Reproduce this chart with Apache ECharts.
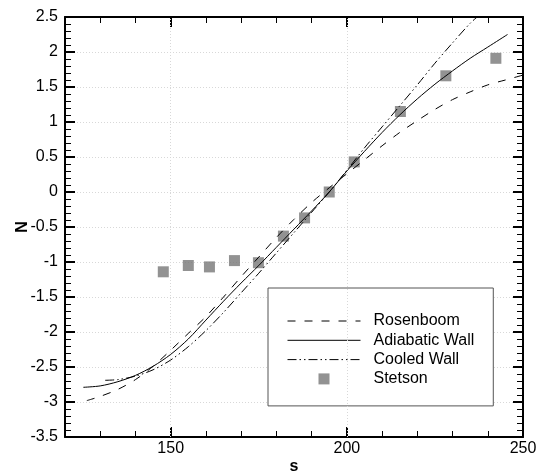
<!DOCTYPE html>
<html>
<head>
<meta charset="utf-8">
<script src="https://cdn.jsdelivr.net/npm/echarts@6/dist/echarts.min.js"></script>
<style>
  html, body { margin: 0; padding: 0; background: #fff; }
  #chart { width: 536px; height: 473px; }
</style>
</head>
<body>
<div id="chart"></div>
<script>
// Adiabatic wall prediction: [s, N]
const adiabaticWall = [
  [125.2, -2.79], [130, -2.77], [135, -2.71], [140, -2.62], [145, -2.49],
  [150, -2.32], [155, -2.10], [160, -1.83], [165, -1.56], [170, -1.30],
  [175, -1.05], [180, -0.79], [185, -0.53], [190, -0.27], [195, 0.0],
  [200, 0.30], [205, 0.58], [210, 0.85], [215, 1.10], [220, 1.33],
  [225, 1.54], [230, 1.73], [235, 1.91], [240, 2.07], [245.6, 2.25]
];

// Cooled wall prediction: [s, N]
const cooledWall = [
  [131.4, -2.69], [135, -2.68], [140, -2.63], [145, -2.54], [150, -2.40],
  [155, -2.21], [160, -1.98], [165, -1.72], [170, -1.44], [175, -1.16],
  [180, -0.87], [185, -0.58], [190, -0.29], [195, 0.0], [200, 0.31],
  [205, 0.63], [210, 0.93], [215, 1.23], [220, 1.53], [225, 1.84],
  [230, 2.13], [235, 2.41], [237, 2.50]
];

// Rosenboom correlation: [s, N]
const rosenboom = [
  [126.2, -2.98], [130, -2.92], [135, -2.82], [140, -2.68], [145, -2.49],
  [150, -2.26], [155, -2.02], [160, -1.78], [165, -1.50], [170, -1.21],
  [175, -0.93], [180, -0.65], [185, -0.39], [190, -0.15], [195, 0.06],
  [200, 0.26], [205, 0.46], [210, 0.66], [215, 0.85], [220, 1.02],
  [225, 1.18], [230, 1.32], [235, 1.43], [240, 1.53], [245, 1.60], [250, 1.67]
];

// Stetson measurements: [s, N]
const stetson = [
  [147.9, -1.14], [155.0, -1.05], [161.0, -1.07], [168.1, -0.98],
  [174.9, -1.01], [182.0, -0.63], [188.0, -0.37], [195.0, 0.0],
  [202.1, 0.43], [215.2, 1.15], [228.1, 1.66], [242.3, 1.91]
];

const xMajorTicks = [150, 200, 250];
const seriesNames = ['Rosenboom', 'Adiabatic Wall', 'Cooled Wall', 'Stetson'];

const FONT = "'Liberation Sans', Arial, sans-serif";
const dashed = [8, 9];
const dashDotDot = [9, 3, 1.5, 3, 1.5, 3];

const chart = echarts.init(document.getElementById('chart'), null, { renderer: 'canvas' });

const xBase = {
  type: 'value', min: 120, max: 250, gridIndex: 0
};
const yBase = {
  type: 'value', min: -3.5, max: 2.5, interval: 0.5, gridIndex: 0
};

chart.setOption({
  animation: false,
  backgroundColor: '#fff',
  grid: { left: 65, right: 13, top: 17, bottom: 36, containLabel: false, outerBoundsMode: 'none' },
  xAxis: [
    Object.assign({}, xBase, {
      position: 'bottom', interval: 10,
      name: 's', nameLocation: 'middle', nameGap: 22, nameMoveOverlap: false,
      nameTextStyle: { fontFamily: FONT, fontSize: 16, fontWeight: 'bold', color: '#000' },
      axisLine: { show: true, onZero: false, lineStyle: { color: '#000', width: 2 } },
      axisTick: { show: true, inside: true, length: 6, lineStyle: { color: '#000', width: 1 } },
      axisLabel: {
        show: true, margin: 4, color: '#000', fontFamily: FONT, fontSize: 16,
        formatter: v => (xMajorTicks.indexOf(v) >= 0 ? String(v) : '')
      },
      splitLine: { show: false }
    }),
    Object.assign({}, xBase, {
      position: 'bottom', interval: 50,
      axisLine: { show: false, onZero: false },
      axisTick: { show: true, inside: true, length: 10, customValues: xMajorTicks, lineStyle: { color: '#000', width: 2 } },
      axisLabel: { show: false },
      splitLine: { show: false }
    }),
    Object.assign({}, xBase, {
      position: 'top', interval: 10,
      axisLine: { show: true, onZero: false, lineStyle: { color: '#000', width: 2 } },
      axisTick: { show: true, inside: true, length: 6, lineStyle: { color: '#000', width: 1 } },
      axisLabel: { show: false },
      splitLine: { show: false }
    }),
    Object.assign({}, xBase, {
      position: 'top', interval: 50,
      axisLine: { show: false, onZero: false },
      axisTick: { show: true, inside: true, length: 10, customValues: xMajorTicks, lineStyle: { color: '#000', width: 2 } },
      axisLabel: { show: false },
      splitLine: { show: false }
    })
  ],
  yAxis: [
    Object.assign({}, yBase, {
      position: 'left',
      name: 'N', nameLocation: 'middle', nameGap: 34, nameRotate: 90, nameMoveOverlap: false,
      nameTextStyle: { fontFamily: FONT, fontSize: 16, fontWeight: 'bold', color: '#000' },
      axisLine: { show: true, onZero: false, lineStyle: { color: '#000', width: 2 } },
      axisTick: { show: true, inside: true, length: 10, lineStyle: { color: '#000', width: 2 } },
      minorTick: { show: true, splitNumber: 5, length: 6, lineStyle: { color: '#000', width: 1 } },
      axisLabel: { show: true, margin: 7, color: '#000', fontFamily: FONT, fontSize: 16 },
      splitLine: { show: true, lineStyle: { color: '#d8d8d8', width: 1, type: [1, 2] } }
    }),
    Object.assign({}, yBase, {
      position: 'right',
      axisLine: { show: true, onZero: false, lineStyle: { color: '#000', width: 2 } },
      axisTick: { show: true, inside: true, length: 10, lineStyle: { color: '#000', width: 2 } },
      minorTick: { show: true, splitNumber: 5, length: 6, lineStyle: { color: '#000', width: 1 } },
      axisLabel: { show: false },
      splitLine: { show: false }
    })
  ],
  legend: {
    show: true,
    orient: 'vertical',
    left: 268, top: 288,
    padding: [25, 19, 19, 19],
    itemWidth: 73, itemHeight: 11, itemGap: 3.3,
    backgroundColor: '#fff',
    borderColor: '#555', borderWidth: 1,
    selectedMode: false,
    symbolKeepAspect: true,
    textStyle: { fontFamily: FONT, fontSize: 16, color: '#000', lineHeight: 16, padding: [0, 0, 0, 8] },
    lineStyle: { width: 1 },
    data: [
      { name: seriesNames[0], itemStyle: { opacity: 0 }, lineStyle: { width: 1, type: dashed, color: '#000' } },
      { name: seriesNames[1], itemStyle: { opacity: 0 }, lineStyle: { width: 1, type: 'solid', color: '#000' } },
      { name: seriesNames[2], itemStyle: { opacity: 0 }, lineStyle: { width: 1, type: dashDotDot, color: '#000' } },
      { name: seriesNames[3], icon: 'path://M0,0L10,0L10,10L0,10Z' }
    ]
  },
  series: [
    {
      name: seriesNames[0], type: 'line', data: rosenboom,
      xAxisIndex: 0, yAxisIndex: 0,
      symbol: 'none', smooth: 0.3, clip: true,
      lineStyle: { color: '#000', width: 1, type: dashed },
      itemStyle: { color: '#000' }
    },
    {
      name: seriesNames[1], type: 'line', data: adiabaticWall,
      xAxisIndex: 0, yAxisIndex: 0,
      symbol: 'none', smooth: 0.3, clip: true,
      lineStyle: { color: '#000', width: 1, type: 'solid' },
      itemStyle: { color: '#000' }
    },
    {
      name: seriesNames[2], type: 'line', data: cooledWall,
      xAxisIndex: 0, yAxisIndex: 0,
      symbol: 'none', smooth: 0.3, clip: true,
      lineStyle: { color: '#000', width: 1, type: dashDotDot },
      itemStyle: { color: '#000' }
    },
    {
      name: seriesNames[3], type: 'scatter', data: stetson,
      xAxisIndex: 0, yAxisIndex: 0,
      symbol: 'rect', symbolSize: 11,
      itemStyle: { color: '#777777' }
    },
    {
      // faint dotted guide lines at the labelled s values
      type: 'line', data: [], xAxisIndex: 0, yAxisIndex: 0, silent: true,
      markLine: {
        silent: true, symbol: 'none', label: { show: false },
        lineStyle: { color: '#d8d8d8', width: 1, type: [1, 2] },
        data: xMajorTicks.slice(0, 2).map(v => ({ xAxis: v }))
      }
    }
  ]
});
</script>
</body>
</html>
